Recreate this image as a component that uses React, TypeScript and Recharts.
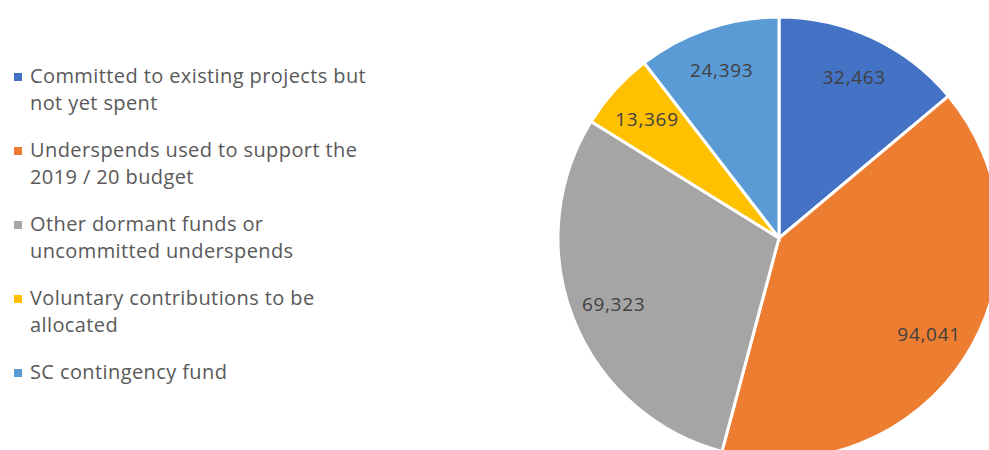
import React from 'react'
import { PieChart, Pie, Cell, Legend } from 'recharts'

const categories = [
  'Committed to existing projects but not yet spent',
  'Underspends used to support the 2019 / 20 budget',
  'Other dormant funds or uncommitted underspends',
  'Voluntary contributions to be allocated',
  'SC contingency fund',
]
const legendLines = [
  ['Committed to existing projects but', 'not yet spent'],
  ['Underspends used to support the', '2019 / 20 budget'],
  ['Other dormant funds or', 'uncommitted underspends'],
  ['Voluntary contributions to be', 'allocated'],
  ['SC contingency fund'],
]
const values = [32463, 94041, 69323, 13369, 24393]
const colors = ['#4472C4', '#ED7D31', '#A5A5A5', '#FFC000', '#5B9BD5']

const data = categories.map((name, i) => ({ name, value: values[i] }))

const FONT = '"Open Sans", sans-serif'
const RADIAN = Math.PI / 180

function renderLabel(props: any) {
  const { cx, cy, midAngle, outerRadius, value } = props
  const r = outerRadius * 0.805
  const x = cx + r * Math.cos(-midAngle * RADIAN)
  const y = cy + r * Math.sin(-midAngle * RADIAN)
  return (
    <text
      x={x}
      y={y}
      textAnchor="middle"
      dominantBaseline="central"
      fill="#404040"
      fontSize={19}
      letterSpacing={0.7}
      fontFamily={FONT}
    >
      {value.toLocaleString('en-US')}
    </text>
  )
}

function LegendContent() {
  return (
    <div style={{ fontFamily: FONT, fontSize: 20, letterSpacing: 0.4, color: '#595959' }}>
      {legendLines.map((lines, i) => (
        <div key={i} style={{ display: 'flex', alignItems: 'flex-start', marginBottom: 21 }}>
          <span
            style={{
              width: 8,
              height: 8,
              background: colors[i],
              marginTop: 10,
              marginRight: 8,
              flexShrink: 0,
            }}
          />
          <div style={{ lineHeight: '26.5px', whiteSpace: 'nowrap' }}>
            {lines.map((l) => (
              <div key={l}>{l}</div>
            ))}
          </div>
        </div>
      ))}
    </div>
  )
}

export default function App() {
  return (
    <div
      style={{
        position: 'absolute',
        left: 0,
        top: 0,
        width: 989,
        height: 450,
        overflow: 'hidden',
        background: '#fff',
      }}
    >
      <PieChart width={989} height={450} margin={{ top: 0, right: 0, bottom: 0, left: 0 }}>
        <Pie
          data={data}
          dataKey="value"
          cx={779}
          cy={238}
          outerRadius={221}
          startAngle={90}
          endAngle={-270}
          stroke="#fff"
          strokeWidth={3}
          label={renderLabel}
          labelLine={false}
          isAnimationActive={false}
        >
          {data.map((d, i) => (
            <Cell key={d.name} fill={colors[i]} />
          ))}
        </Pie>
        <Legend
          layout="vertical"
          content={<LegendContent />}
          wrapperStyle={{ left: 14, top: 63, width: 420, bottom: 'auto' }}
        />
      </PieChart>
    </div>
  )
}
